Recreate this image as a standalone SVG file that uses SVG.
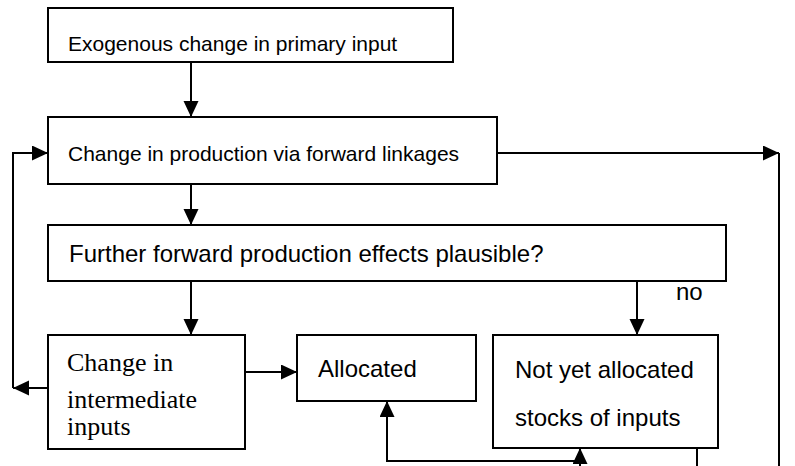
<svg xmlns="http://www.w3.org/2000/svg" width="795" height="466" viewBox="0 0 795 466">
  <style>
    .box { fill: #ffffff; stroke: #000000; stroke-width: 2; }
    .wire { fill: none; stroke: #000000; stroke-width: 2; }
    .sans { font-family: "Liberation Sans", Arial, sans-serif; fill: #000000; }
    .serif { font-family: "Liberation Serif", "Times New Roman", serif; fill: #000000; }
  </style>
  <defs>
    <marker id="arrow" markerUnits="userSpaceOnUse" markerWidth="17" markerHeight="16" refX="16" refY="7.5" orient="auto">
      <path d="M0,0 L16,7.5 L0,15 z" fill="#000000"/>
    </marker>
  </defs>

  <rect width="795" height="466" fill="#ffffff"/>

  <g id="connectors">
    <path class="wire" d="M191,62 V117" marker-end="url(#arrow)"/>
    <path class="wire" d="M191,184 V225" marker-end="url(#arrow)"/>
    <path class="wire" d="M191,281 V335" marker-end="url(#arrow)"/>
    <path class="wire" d="M637,281 V335" marker-end="url(#arrow)"/>
    <path class="wire" d="M245,372 H297" marker-end="url(#arrow)"/>
    <path class="wire" d="M48,388 H13" marker-end="url(#arrow)"/>
    <path class="wire" d="M13,388 V153 H48" marker-end="url(#arrow)"/>
    <path class="wire" d="M497,153 H779" marker-end="url(#arrow)"/>
    <path class="wire" d="M779,153 V470"/>
    <path class="wire" d="M580,461 H387 V401" marker-end="url(#arrow)"/>
    <path class="wire" d="M580,482 V448" marker-end="url(#arrow)"/>
    <path class="wire" d="M697,448 V470"/>
    <text class="sans" x="676" y="300" font-size="24">no</text>
  </g>

  <g id="exogenous-change">
    <rect class="box" x="48" y="8" width="405" height="54"/>
    <text class="sans" x="68" y="51" font-size="21">Exogenous change in primary input</text>
  </g>

  <g id="forward-production">
    <rect class="box" x="48" y="117" width="449" height="67"/>
    <text class="sans" x="68" y="161" font-size="21">Change in production via forward linkages</text>
  </g>

  <g id="further-effects">
    <rect class="box" x="48" y="225" width="678" height="56"/>
    <text class="sans" x="69" y="262" font-size="24">Further forward production effects plausible?</text>
  </g>

  <g id="intermediate-inputs">
    <rect class="box" x="48" y="335" width="197" height="114"/>
    <text class="serif" x="67" y="371" font-size="26">Change in</text>
    <text class="serif" x="67" y="408" font-size="26">intermediate</text>
    <text class="serif" x="67" y="435" font-size="26">inputs</text>
  </g>

  <g id="allocated">
    <rect class="box" x="297" y="335" width="179" height="66"/>
    <text class="sans" x="318" y="377" font-size="24">Allocated</text>
  </g>

  <g id="not-yet-allocated">
    <rect class="box" x="493" y="335" width="225" height="113"/>
    <text class="sans" x="515" y="378" font-size="24">Not yet allocated</text>
    <text class="sans" x="515" y="426" font-size="24">stocks of inputs</text>
  </g>
</svg>
